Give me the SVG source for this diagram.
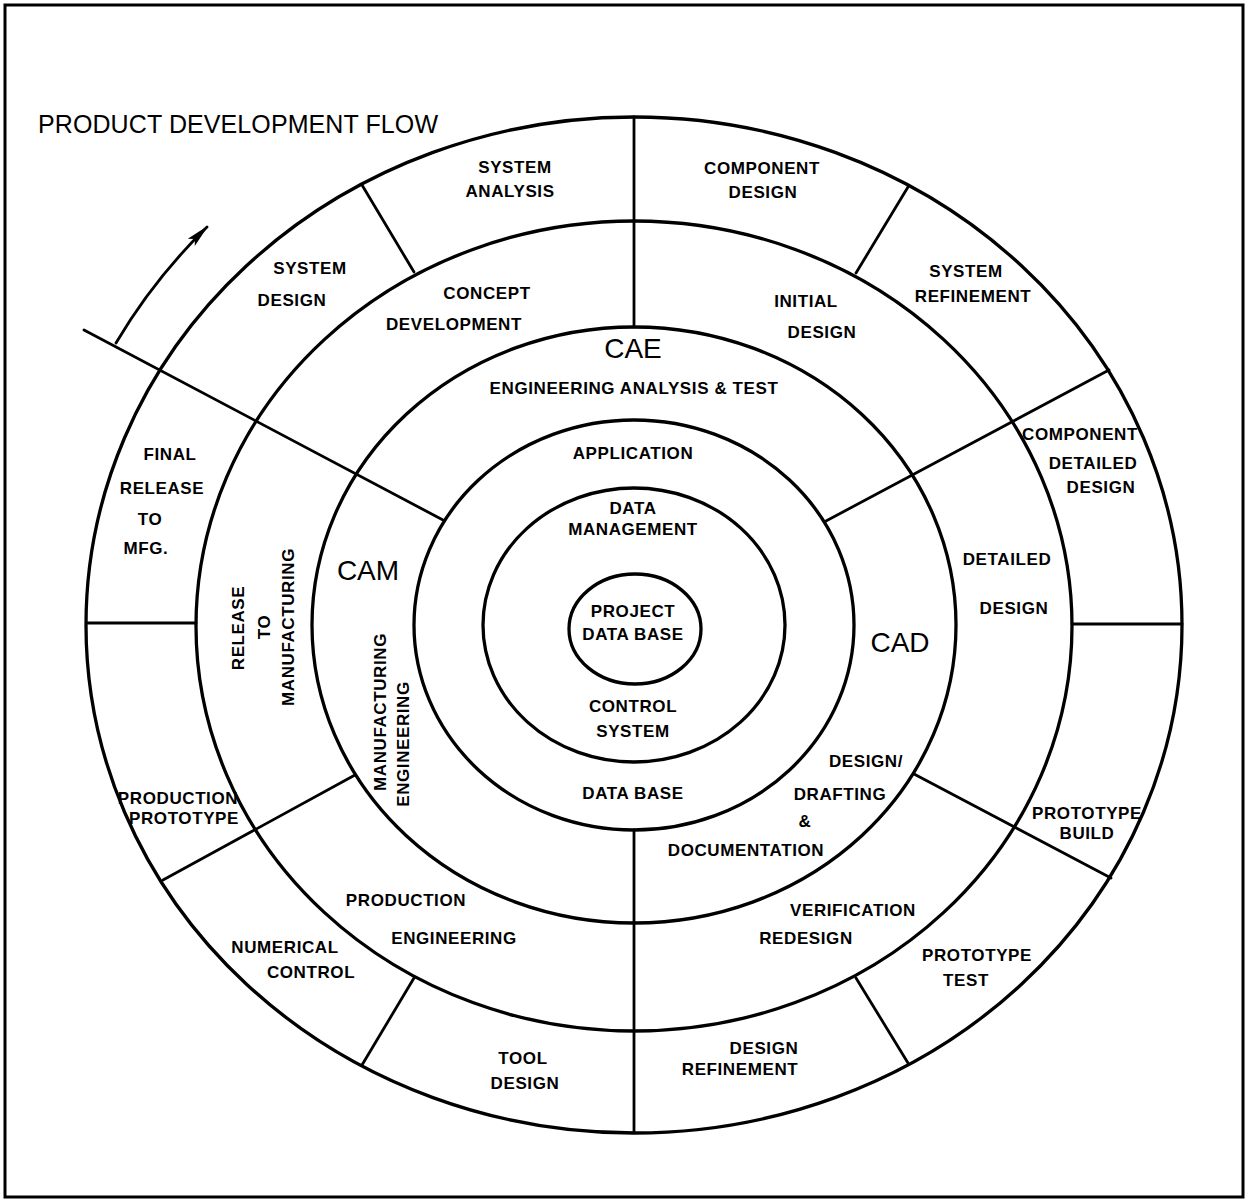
<svg xmlns="http://www.w3.org/2000/svg" width="1248" height="1200" viewBox="0 0 1248 1200">
  <defs>
    <style>
      .ring { fill: none; stroke: #000; stroke-width: 3.3; }
      .spoke { fill: none; stroke: #000; stroke-width: 2.8; stroke-linecap: round; }
      .lbl { font-family: "Liberation Sans", Arial, sans-serif; font-weight: bold; font-size: 17px; letter-spacing: 0.6px; fill: #000; text-anchor: middle; }
      .big { font-family: "Liberation Sans", Arial, sans-serif; font-size: 28px; fill: #000; text-anchor: middle; }
      .title { font-family: "Liberation Sans", Arial, sans-serif; font-size: 25px; fill: #000; }
    </style>
    <marker id="head" viewBox="0 0 24 12" refX="22" refY="6" markerWidth="24" markerHeight="12" markerUnits="userSpaceOnUse" orient="auto">
      <path d="M0,1 L24,6 L0,11 L5,6 Z" fill="#000"/>
    </marker>
  </defs>

  <rect x="5" y="5" width="1238" height="1192" fill="#fff" stroke="#000" stroke-width="3"/>

  <text class="title" x="38" y="133" textLength="400">PRODUCT DEVELOPMENT FLOW</text>

  <!-- concentric rings -->
  <g id="rings">
    <ellipse id="ring-outer" class="ring" cx="634" cy="625" rx="548" ry="508" stroke-width="3.6"/>
    <ellipse id="ring-2" class="ring" cx="634" cy="626" rx="438" ry="405"/>
    <ellipse id="ring-3" class="ring" cx="634" cy="625" rx="322" ry="298"/>
    <ellipse id="ring-4" class="ring" cx="634" cy="625" rx="220" ry="205"/>
    <ellipse id="ring-5" class="ring" cx="634" cy="625" rx="151" ry="137"/>
    <ellipse id="ring-core" class="ring" cx="635" cy="629" rx="66" ry="55"/>
  </g>

  <!-- radial dividers and flow arrow -->
  <g id="connectors">
    <line class="spoke" x1="634" y1="117" x2="634" y2="327"/>
    <line class="spoke" x1="634" y1="830" x2="634" y2="1132"/>
    <line class="spoke" x1="362" y1="185" x2="414" y2="272"/>
    <line class="spoke" x1="908" y1="187" x2="856" y2="273"/>
    <line class="spoke" x1="1109" y1="370" x2="826" y2="521"/>
    <line class="spoke" x1="84" y1="330" x2="443" y2="520"/>
    <line class="spoke" x1="87" y1="623" x2="196" y2="623"/>
    <line class="spoke" x1="1072" y1="624" x2="1182" y2="624"/>
    <line class="spoke" x1="163" y1="880" x2="355" y2="775"/>
    <line class="spoke" x1="362" y1="1065" x2="414" y2="978"/>
    <line class="spoke" x1="908" y1="1063" x2="856" y2="978"/>
    <line class="spoke" x1="1111" y1="878" x2="914" y2="774"/>
    <path id="flow-arrow" class="spoke" d="M116,343 A603,559 0 0 1 207,227" marker-end="url(#head)"/>
  </g>

  <!-- outer ring: phases -->
  <g id="system-analysis"><text class="lbl" x="515" y="173">SYSTEM</text><text class="lbl" x="510" y="197">ANALYSIS</text></g>
  <g id="component-design"><text class="lbl" x="762" y="174">COMPONENT</text><text class="lbl" x="763" y="198">DESIGN</text></g>
  <g id="system-design"><text class="lbl" x="310" y="274">SYSTEM</text><text class="lbl" x="292" y="306">DESIGN</text></g>
  <g id="system-refinement"><text class="lbl" x="966" y="277">SYSTEM</text><text class="lbl" x="973" y="302">REFINEMENT</text></g>
  <g id="final-release"><text class="lbl" x="170" y="460">FINAL</text><text class="lbl" x="162" y="494">RELEASE</text><text class="lbl" x="150" y="525">TO</text><text class="lbl" x="146" y="554">MFG.</text></g>
  <g id="component-detailed-design"><text class="lbl" x="1080" y="440">COMPONENT</text><text class="lbl" x="1093" y="469">DETAILED</text><text class="lbl" x="1101" y="493">DESIGN</text></g>
  <g id="production-prototype"><text class="lbl" x="178" y="804">PRODUCTION</text><text class="lbl" x="184" y="824">PROTOTYPE</text></g>
  <g id="prototype-build"><text class="lbl" x="1087" y="819">PROTOTYPE</text><text class="lbl" x="1087" y="839">BUILD</text></g>
  <g id="numerical-control"><text class="lbl" x="285" y="953">NUMERICAL</text><text class="lbl" x="311" y="978">CONTROL</text></g>
  <g id="prototype-test"><text class="lbl" x="977" y="961">PROTOTYPE</text><text class="lbl" x="966" y="986">TEST</text></g>
  <g id="tool-design"><text class="lbl" x="523" y="1064">TOOL</text><text class="lbl" x="525" y="1089">DESIGN</text></g>
  <g id="design-refinement"><text class="lbl" x="764" y="1054">DESIGN</text><text class="lbl" x="740" y="1075">REFINEMENT</text></g>

  <!-- second ring -->
  <g id="concept-development"><text class="lbl" x="487" y="299">CONCEPT</text><text class="lbl" x="454" y="330">DEVELOPMENT</text></g>
  <g id="initial-design"><text class="lbl" x="806" y="307">INITIAL</text><text class="lbl" x="822" y="338">DESIGN</text></g>
  <g id="detailed-design"><text class="lbl" x="1007" y="565">DETAILED</text><text class="lbl" x="1014" y="614">DESIGN</text></g>
  <g id="release-to-manufacturing">
    <text class="lbl" transform="translate(244,628) rotate(-90)">RELEASE</text>
    <text class="lbl" transform="translate(270,627) rotate(-90)">TO</text>
    <text class="lbl" transform="translate(294,627) rotate(-90)">MANUFACTURING</text>
  </g>
  <g id="production-engineering"><text class="lbl" x="406" y="906">PRODUCTION</text><text class="lbl" x="454" y="944">ENGINEERING</text></g>
  <g id="verification-redesign"><text class="lbl" x="853" y="916">VERIFICATION</text><text class="lbl" x="806" y="944">REDESIGN</text></g>

  <!-- third ring: CAE / CAM / CAD -->
  <g id="cae"><text class="big" x="633" y="358">CAE</text><text class="lbl" x="634" y="394">ENGINEERING ANALYSIS &amp; TEST</text></g>
  <g id="cam">
    <text class="big" x="368" y="580">CAM</text>
    <text class="lbl" transform="translate(386,712) rotate(-90)">MANUFACTURING</text>
    <text class="lbl" transform="translate(409,744) rotate(-90)">ENGINEERING</text>
  </g>
  <g id="cad">
    <text class="big" x="900" y="652">CAD</text>
    <text class="lbl" x="866" y="767">DESIGN/</text>
    <text class="lbl" x="840" y="800">DRAFTING</text>
    <text class="lbl" x="805" y="827">&amp;</text>
    <text class="lbl" x="746" y="856">DOCUMENTATION</text>
  </g>

  <!-- inner rings -->
  <g id="application"><text class="lbl" x="633" y="459">APPLICATION</text><text class="lbl" x="633" y="799">DATA BASE</text></g>
  <g id="data-management"><text class="lbl" x="633" y="514">DATA</text><text class="lbl" x="633" y="535">MANAGEMENT</text></g>
  <g id="control-system"><text class="lbl" x="633" y="712">CONTROL</text><text class="lbl" x="633" y="737">SYSTEM</text></g>
  <g id="project-data-base"><text class="lbl" x="633" y="617">PROJECT</text><text class="lbl" x="633" y="640">DATA BASE</text></g>
</svg>
